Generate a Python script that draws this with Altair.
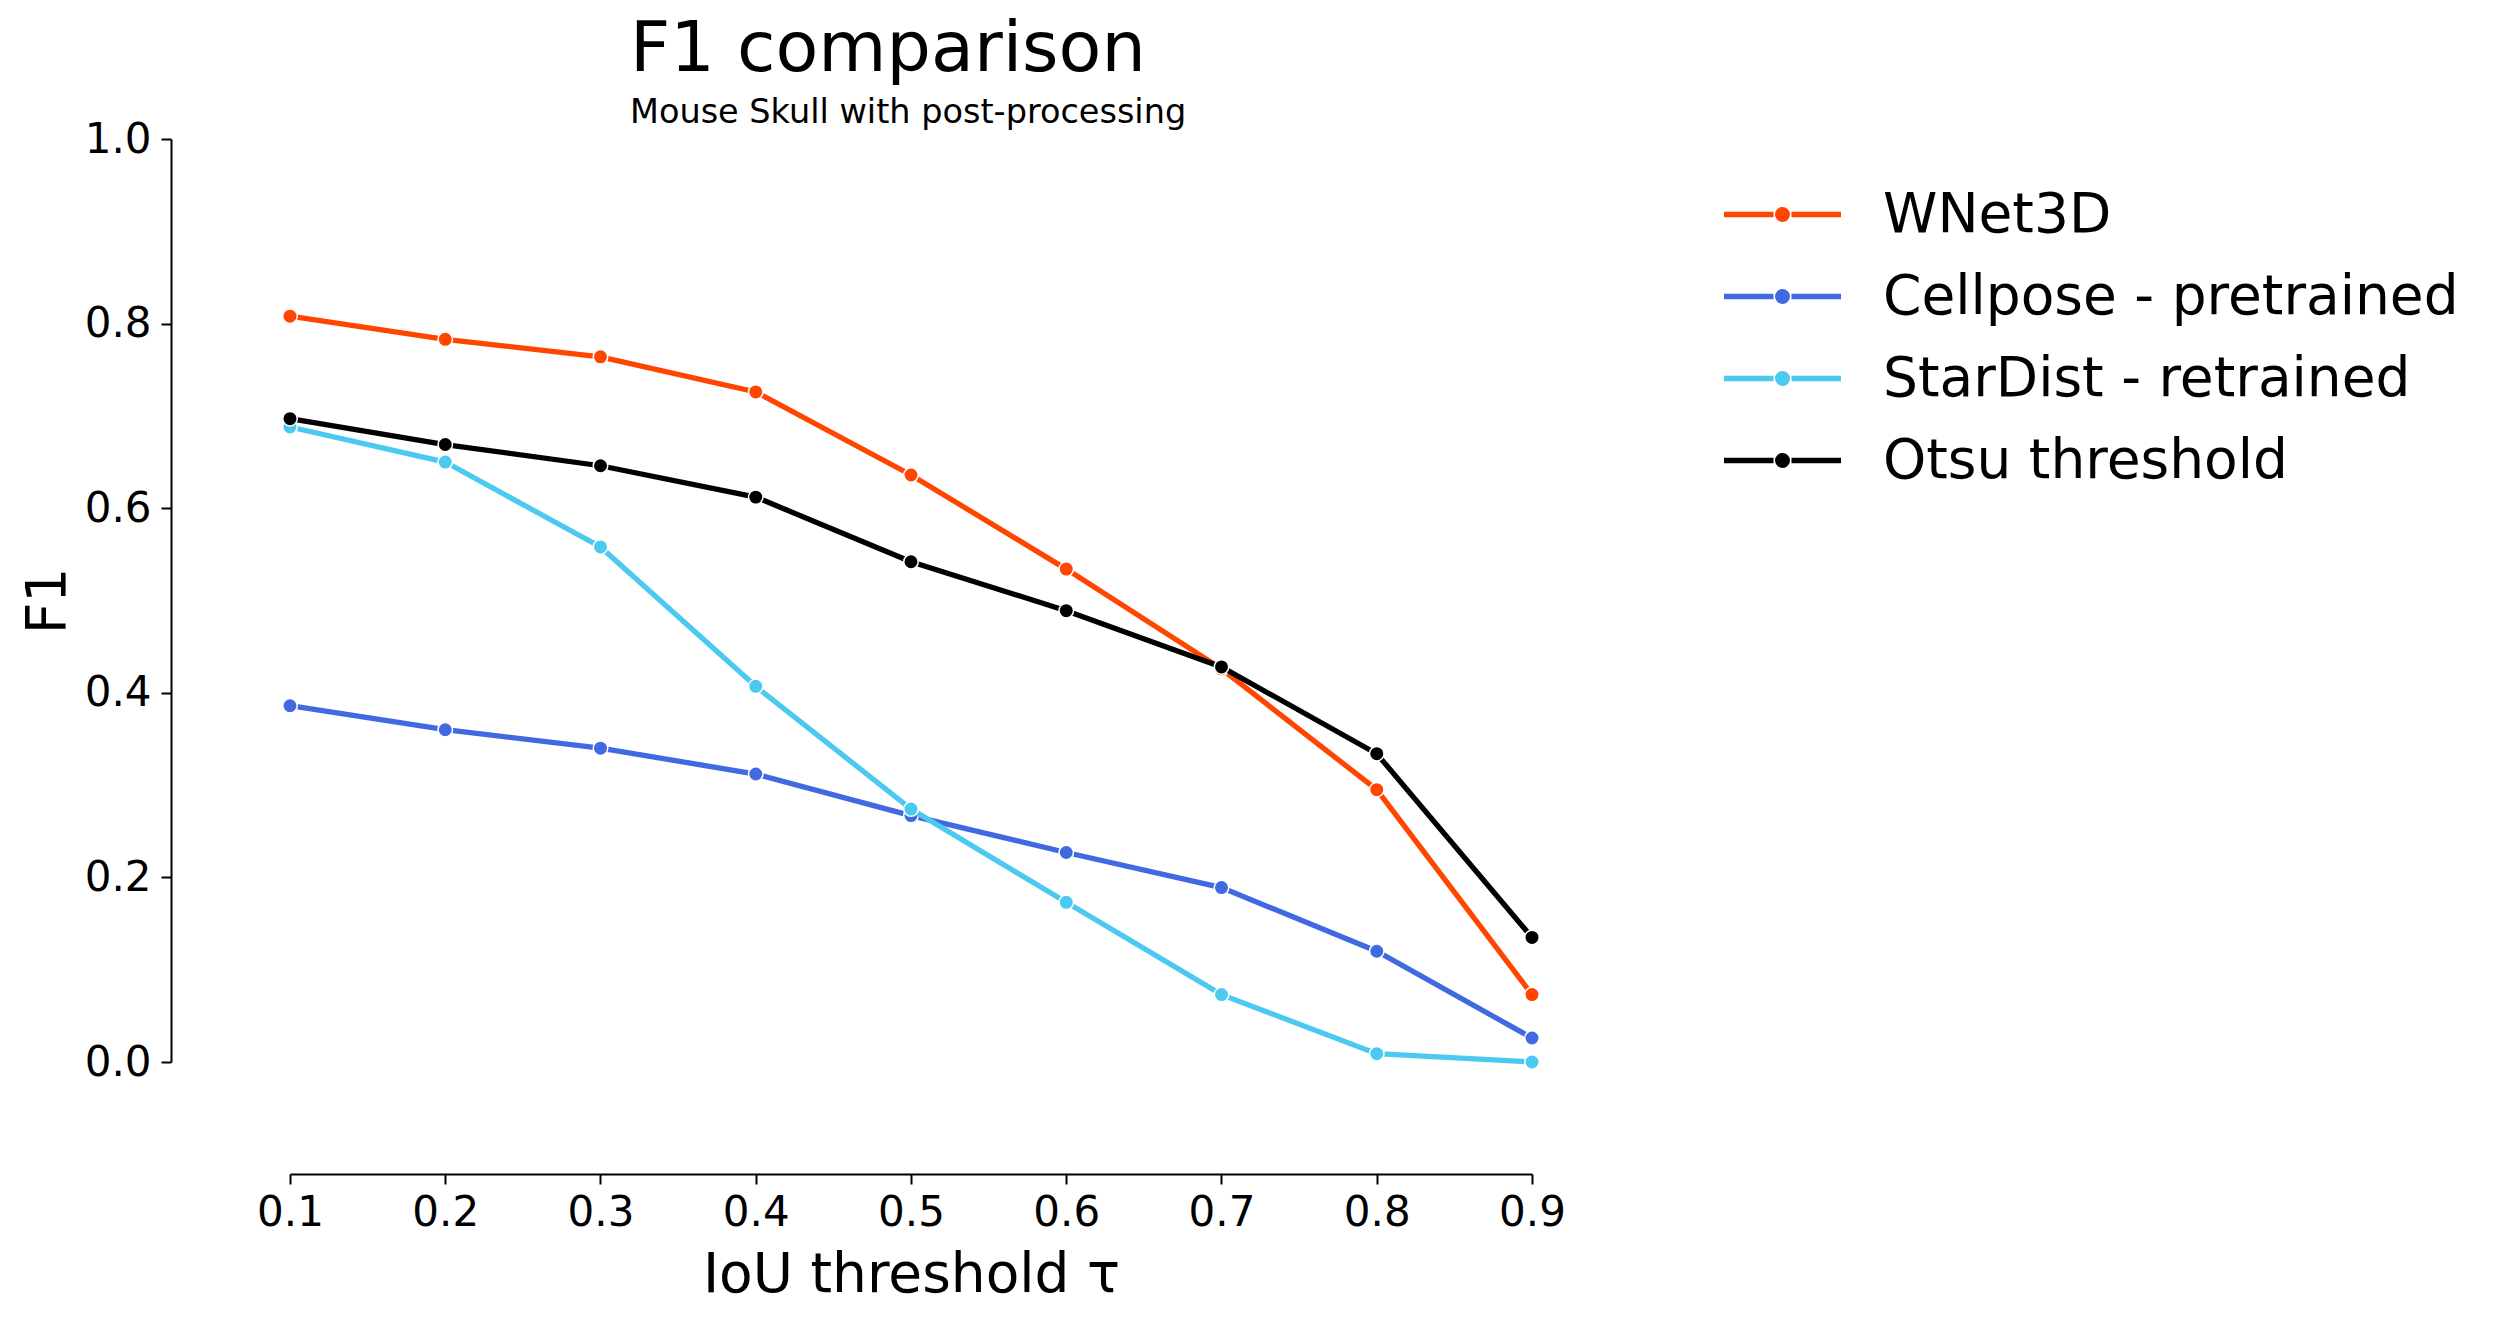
import altair as alt
import pandas as pd

thresholds = [0.1, 0.2, 0.3, 0.4, 0.5, 0.6, 0.7, 0.8, 0.9]
methods = ["WNet3D", "Cellpose - pretrained", "StarDist - retrained", "Otsu threshold"]
colors = ["#FF4500", "#4169E1", "#4CC9F0", "#000000"]
wnet3d = [0.808, 0.783, 0.764, 0.726, 0.636, 0.534, 0.426, 0.295, 0.073]
cellpose = [0.386, 0.360, 0.340, 0.312, 0.267, 0.227, 0.189, 0.120, 0.026]
stardist = [0.688, 0.650, 0.558, 0.407, 0.274, 0.173, 0.073, 0.009, 0.000]
otsu = [0.697, 0.669, 0.646, 0.612, 0.542, 0.489, 0.428, 0.334, 0.135]
y_ticks = [0.0, 0.2, 0.4, 0.6, 0.8, 1.0]

series = {
    "WNet3D": wnet3d,
    "Cellpose - pretrained": cellpose,
    "StarDist - retrained": stardist,
    "Otsu threshold": otsu,
}
rows = []
for m in methods:
    for t, v in zip(thresholds, series[m]):
        rows.append({"method": m, "iou": t, "f1": v})
df = pd.DataFrame(rows)

FONT = "DejaVu Sans"

# legend symbol: a line with a filled dot (dot drawn via concentric stroked arcs)
sym = ("M-3.9,0H-0.6M0.6,0H3.9"
       "M0.323,0A0.323,0.323,0,1,1,-0.323,0A0.323,0.323,0,1,1,0.323,0"
       "M0.05,0A0.05,0.05,0,1,1,-0.05,0A0.05,0.05,0,1,1,0.05,0")

legend = alt.Legend(
    title=None, orient="none", legendX=1465, legendY=48,
    symbolType=sym, symbolSize=900, symbolStrokeWidth=5.3,
    labelFontSize=55, labelFont=FONT, labelColor="black",
    labelOffset=73, rowPadding=26, padding=0, labelLimit=1000,
)

xenc = alt.X("iou:Q", title="IoU threshold τ",
             scale=alt.Scale(domain=[0.1, 0.9], nice=False, zero=False),
             axis=alt.Axis(values=thresholds, format=".1f", offset=112,
                           grid=False, labelFontSize=42, labelPadding=8,
                           titleFontSize=55, titlePadding=15, labelFlush=False,
                           titleFontWeight="normal"))
yenc = alt.Y("f1:Q", title="F1",
             scale=alt.Scale(domain=[0, 1], nice=False, zero=False),
             axis=alt.Axis(values=y_ticks, format=".1f", offset=119,
                           grid=False, labelFontSize=42, labelPadding=10,
                           titleFontSize=55, titlePadding=8, labelFlush=False,
                           titleFontWeight="normal"))

cscale = alt.Scale(domain=methods, range=colors)

layers = []
for m in methods:
    sub = alt.Chart(df).transform_filter(alt.datum.method == m)
    line = sub.mark_line(strokeWidth=5.3).encode(
        x=xenc, y=yenc,
        color=alt.Color("method:N", scale=cscale, sort=methods, legend=legend),
    )
    pts = sub.mark_point(filled=True, size=210, opacity=1, stroke="white",
                         strokeWidth=1.5).encode(
        x=xenc, y=yenc,
        fill=alt.Fill("method:N", scale=cscale, sort=methods, legend=None),
    )
    layers += [line, pts]

chart = alt.layer(*layers).properties(
    width=1242, height=923,
    background="white",
    title=alt.TitleParams(
        text="F1 comparison", subtitle="Mouse Skull with post-processing",
        anchor="start", frame="group", dx=340, fontSize=70, subtitleFontSize=33.5,
        font=FONT, subtitleFont=FONT, fontWeight="normal",
        color="black", subtitleColor="black", offset=-12, subtitlePadding=11,
    ),
    autosize=alt.AutoSizeParams(type="none"),
    padding={"left": 282, "top": 131, "right": 960, "bottom": 235},
).configure_view(stroke="transparent", strokeWidth=0).configure_axis(
    domainColor="black", domainWidth=2, tickColor="black", tickWidth=2,
    tickSize=10, labelColor="black", titleColor="black",
    labelFont=FONT, titleFont=FONT, titleFontWeight="normal",
)

chart.save("out.html", embed_options={"renderer": "svg", "actions": False})
